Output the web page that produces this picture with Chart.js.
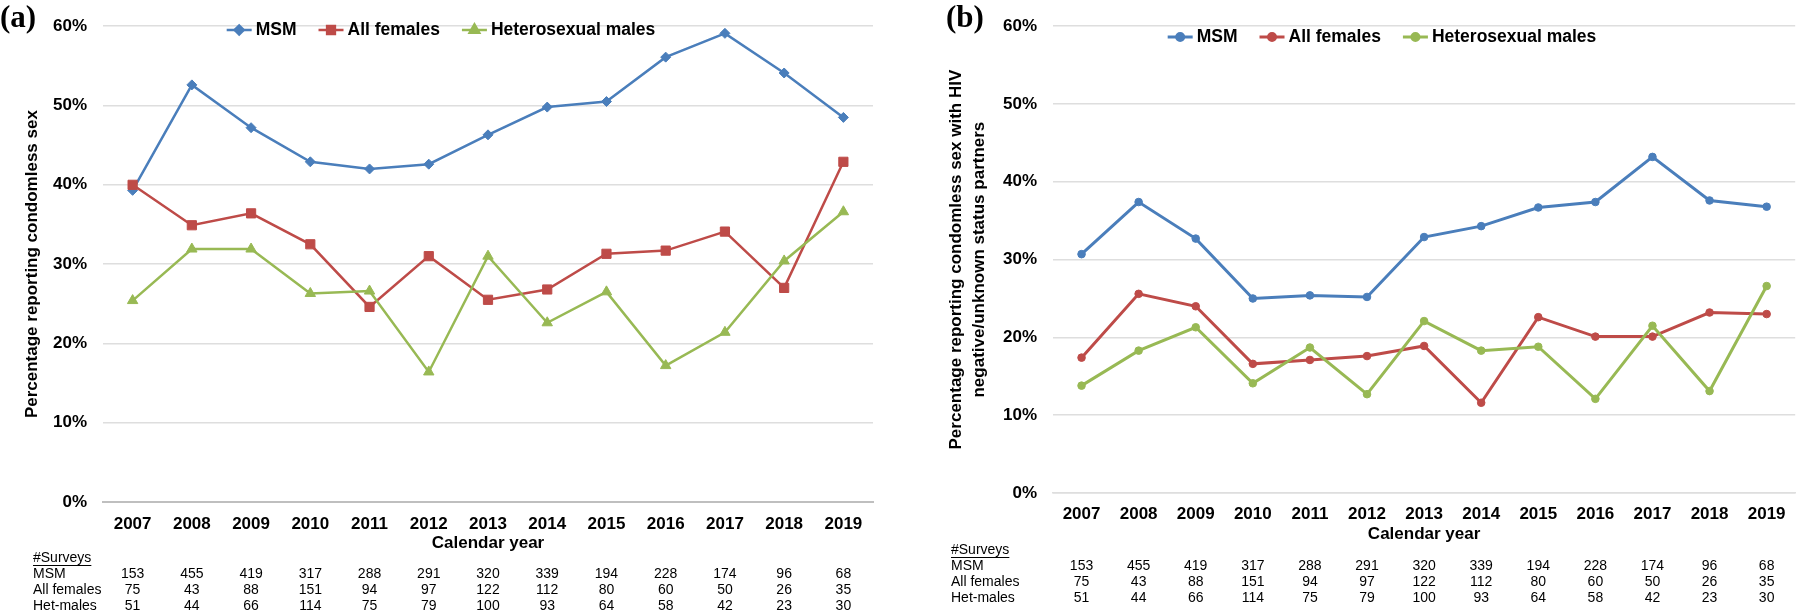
<!DOCTYPE html>
<html>
<head>
<meta charset="utf-8">
<script src="https://cdn.jsdelivr.net/npm/chart.js@4/dist/chart.umd.min.js"></script>
<style>
  html, body { margin: 0; padding: 0; background: #fff; }
  #wrap { position: relative; width: 1800px; height: 612px; overflow: hidden; }
  .panel { position: absolute; top: 0; width: 900px; height: 612px; }
  #pa { left: 0; } #pb { left: 900px; }
  .tag { position: absolute; top: -1px; font: bold 31px "Liberation Serif", "Times New Roman", serif; color: #000; line-height: 36px; }
</style>
</head>
<body>
<div id="wrap">
  <div class="panel" id="pa"><canvas id="ca"></canvas></div>
  <div class="panel" id="pb"><canvas id="cb"></canvas></div>
  <div class="tag" style="left:0px;">(a)</div>
  <div class="tag" style="left:946px;">(b)</div>
</div>
<script>
// ---- Data ----
const years = ['2007','2008','2009','2010','2011','2012','2013','2014','2015','2016','2017','2018','2019'];
const yTicks = [0, 10, 20, 30, 40, 50, 60];
const seriesNames = ['MSM', 'All females', 'Heterosexual males'];

// Panel (a): % reporting condomless sex
const msmA = [39.3, 52.6, 47.2, 42.9, 42.0, 42.6, 46.3, 49.8, 50.5, 56.1, 59.1, 54.1, 48.5];
const femA = [40.0, 34.9, 36.4, 32.5, 24.6, 31.0, 25.5, 26.8, 31.3, 31.7, 34.1, 27.0, 42.9];
const hetA = [25.4, 31.9, 31.9, 26.3, 26.6, 16.4, 31.0, 22.6, 26.5, 17.2, 21.4, 30.4, 36.6];

// Panel (b): % condomless sex with HIV negative/unknown status partners
const msmB = [30.7, 37.4, 32.7, 25.0, 25.4, 25.2, 32.9, 34.3, 36.7, 37.4, 43.2, 37.6, 36.8];
const femB = [17.4, 25.6, 24.0, 16.6, 17.1, 17.6, 18.9, 11.6, 22.6, 20.1, 20.1, 23.2, 23.0];
const hetB = [13.8, 18.3, 21.3, 14.1, 18.7, 12.7, 22.1, 18.3, 18.8, 12.1, 21.5, 13.1, 26.6];

// Number of surveys
const tableTitle = '#Surveys';
const rowNames = ['MSM', 'All females', 'Het-males'];
const msmN = [153, 455, 419, 317, 288, 291, 320, 339, 194, 228, 174, 96, 68];
const femN = [75, 43, 88, 151, 94, 97, 122, 112, 80, 60, 50, 26, 35];
const hetN = [51, 44, 66, 114, 75, 79, 100, 93, 64, 58, 42, 23, 30];

// ---- Styling ----
const BLUE = '#4A7EBB', RED = '#BE4B48', GREEN = '#98B954';
const FONT = '"Liberation Sans", Arial, Helvetica, sans-serif';

const extrasPlugin = {
  id: 'extras',
  afterDraw(chart, args, o) {
    const ctx = chart.ctx;
    const xs = chart.scales.x;
    ctx.save();
    // Legend (line + marker)
    ctx.font = 'bold 17.5px ' + FONT;
    ctx.textBaseline = 'middle';
    ctx.textAlign = 'left';
    const ds = chart.data.datasets;
    const lineLen = 25, gap = 4, itemGap = 22;
    let total = 0;
    const widths = ds.map(d => ctx.measureText(d.label).width);
    widths.forEach((w, i) => { total += lineLen + gap + w + (i < ds.length - 1 ? itemGap : 0); });
    let x = o.legendCenter - total / 2;
    const y = o.legendY;
    ds.forEach((d, i) => {
      ctx.strokeStyle = d.borderColor;
      ctx.fillStyle = d.borderColor;
      ctx.lineWidth = d.borderWidth;
      ctx.beginPath();
      ctx.moveTo(x, y); ctx.lineTo(x + lineLen, y);
      ctx.stroke();
      Chart.helpers.drawPoint(ctx, {pointStyle: d.pointStyle, radius: o.legendRadius[i], rotation: 0, borderWidth: 1}, x + lineLen / 2, y);
      ctx.fillStyle = '#000';
      ctx.fillText(d.label, x + lineLen + gap, y);
      x += lineLen + gap + widths[i] + itemGap;
    });

    // Surveys table
    ctx.font = '14px ' + FONT;
    ctx.fillStyle = '#000';
    ctx.textAlign = 'left';
    ctx.fillText(tableTitle, o.tableX, o.rowY[0]);
    const tw = ctx.measureText(tableTitle).width;
    ctx.strokeStyle = '#000';
    ctx.lineWidth = 1;
    ctx.beginPath();
    ctx.moveTo(o.tableX, o.rowY[0] + 7.5); ctx.lineTo(o.tableX + tw, o.rowY[0] + 7.5);
    ctx.stroke();
    const rows = [msmN, femN, hetN];
    rows.forEach((r, ri) => {
      const ry = o.rowY[ri + 1];
      ctx.textAlign = 'left';
      ctx.fillText(rowNames[ri], o.tableX, ry);
      ctx.textAlign = 'center';
      r.forEach((v, ci) => ctx.fillText(String(v), xs.getPixelForValue(ci), ry));
    });
    ctx.restore();
  }
};

function makeChart(id, cfg) {
  const datasets = [
    { label: seriesNames[0], data: cfg.data[0], borderColor: BLUE, backgroundColor: BLUE, pointStyle: cfg.styles[0], pointRadius: cfg.radius[0], order: 2 },
    { label: seriesNames[1], data: cfg.data[1], borderColor: RED, backgroundColor: RED, pointStyle: cfg.styles[1], pointRadius: cfg.radius[1], order: 1 },
    { label: seriesNames[2], data: cfg.data[2], borderColor: GREEN, backgroundColor: GREEN, pointStyle: cfg.styles[2], pointRadius: cfg.radius[2], order: 0 }
  ].map(d => Object.assign(d, { borderWidth: cfg.lineWidth, tension: 0, pointBorderWidth: 1, pointHoverRadius: d.pointRadius, fill: false }));

  return new Chart(document.getElementById(id), {
    type: 'line',
    data: { labels: years, datasets },
    options: {
      responsive: true,
      maintainAspectRatio: false,
      devicePixelRatio: 1,
      animation: false,
      events: [],
      layout: { padding: cfg.padding },
      plugins: {
        legend: { display: false },
        tooltip: { enabled: false },
        extras: cfg.extras
      },
      scales: {
        x: {
          offset: true,
          grid: { display: false, drawTicks: false },
          border: { display: true, color: cfg.baseColor, width: cfg.baseWidth },
          ticks: { color: '#000', font: { family: FONT, size: 17, weight: 'bold' }, padding: cfg.xTickPad, maxRotation: 0, autoSkip: false },
          title: { display: true, text: 'Calendar year', color: '#000', font: { family: FONT, size: 17, weight: 'bold' }, padding: { top: 0, bottom: cfg.xTitlePad } },
          afterFit: s => { s.height = cfg.xHeight; }
        },
        y: {
          min: 0, max: 60,
          afterBuildTicks: s => { s.ticks = yTicks.map(v => ({ value: v })); },
          grid: { color: '#DEDEDE', lineWidth: 1.5, drawTicks: false },
          border: { display: false },
          ticks: { color: '#000', font: { family: FONT, size: 17, weight: 'bold' }, padding: 16, callback: v => v + '%' },
          title: { display: true, text: cfg.yTitle, color: '#000', font: { family: FONT, size: 17, weight: 'bold', lineHeight: 1.35 }, padding: { top: cfg.yTitlePad, bottom: 0 } },
          afterFit: s => { s.width = cfg.yWidth; }
        }
      }
    },
    plugins: [extrasPlugin]
  });
}

makeChart('ca', {
  data: [msmA, femA, hetA],
  styles: ['rectRot', 'rect', 'triangle'],
  radius: [5, 6.5, 6],
  lineWidth: 2.5,
  padding: { left: 0, top: 15, right: 27, bottom: 54 },
  yWidth: 103, xHeight: 56, xTickPad: 12, xTitlePad: 4,
  baseColor: '#BFBFBF', baseWidth: 2,
  yTitle: 'Percentage reporting condomless sex', yTitlePad: 21,
  extras: { legendCenter: 441, legendY: 30, legendRadius: [4.5, 5.5, 5.5], tableX: 33, rowY: [558, 574, 590, 606] }
});

makeChart('cb', {
  data: [msmB, femB, hetB],
  styles: ['circle', 'circle', 'circle'],
  radius: [3.8, 3.8, 3.8],
  lineWidth: 3,
  padding: { left: 0, top: 15, right: 1, bottom: 64 },
  yWidth: 153, xHeight: 55, xTickPad: 11, xTitlePad: 3,
  baseColor: '#DEDEDE', baseWidth: 1.5,
  yTitle: ['Percentage reporting condomless sex with HIV', 'negative/unknown status partners'], yTitlePad: 45,
  extras: { legendCenter: 482, legendY: 37, legendRadius: [3.5, 3.5, 3.5], tableX: 51, rowY: [550, 566, 582, 598] }
});
</script>
</body>
</html>
